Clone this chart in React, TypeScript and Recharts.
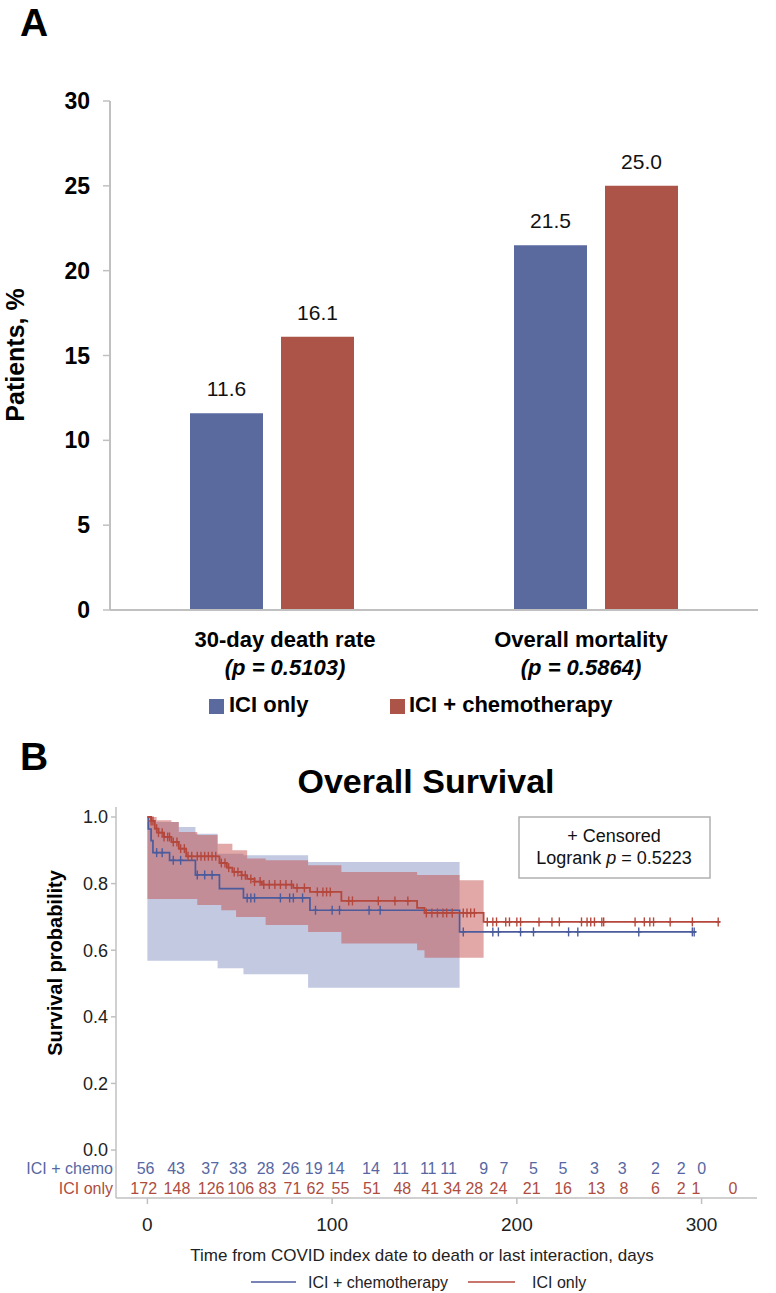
import React from 'react';
import { BarChart, Bar, XAxis, YAxis, LabelList, ComposedChart, Line, Area, Scatter } from 'recharts';

const FONT = '"Liberation Sans", Arial, Helvetica, sans-serif';

// ---------- Panel A data ----------
const barCategories = ['30-day death rate', 'Overall mortality'];
const barPValues = ['(p = 0.5103)', '(p = 0.5864)'];
const iciOnlyRates = [11.6, 21.5];
const iciChemoRates = [16.1, 25.0];
const barYTicks = [0, 5, 10, 15, 20, 25, 30];

// ---------- Panel B data ----------
// Kaplan-Meier step curves
const chemoKmTimes = [0, 0.5, 2, 3, 12, 26, 39, 52, 88, 169, 297];
const chemoKmSurv = [1.0, 0.964, 0.929, 0.893, 0.87, 0.826, 0.785, 0.757, 0.72, 0.655, 0.655];
const iciKmTimes = [0, 2, 4, 6, 9, 13, 17, 21, 39, 43, 46, 51, 54, 58, 62, 79, 88, 105, 146, 150, 182, 310];
const iciKmSurv = [1.0, 0.988, 0.965, 0.953, 0.94, 0.925, 0.905, 0.882, 0.862, 0.848, 0.835, 0.825, 0.814, 0.806, 0.797, 0.787, 0.775, 0.748, 0.727, 0.712, 0.685, 0.685];

// confidence bands
const chemoBandTimes = [0, 17, 26, 38, 52, 87, 169];
const chemoBandLow = [0.568, 0.568, 0.568, 0.546, 0.528, 0.487, 0.487];
const chemoBandHigh = [0.985, 0.97, 0.95, 0.89, 0.885, 0.865, 0.865];
const iciBandTimes = [0, 5, 13, 17, 27, 38, 40, 46, 48, 54, 64, 87, 105, 146, 150, 169, 182];
const iciBandHigh = [1.0, 0.99, 0.985, 0.955, 0.946, 0.92, 0.92, 0.9, 0.9, 0.875, 0.87, 0.855, 0.835, 0.826, 0.826, 0.81, 0.81];
const iciBandLow = [0.754, 0.754, 0.754, 0.754, 0.736, 0.736, 0.72, 0.72, 0.7, 0.7, 0.676, 0.655, 0.62, 0.6, 0.577, 0.577, 0.577];

// censored observations (days)
const chemoCensorTimes = [5, 8, 14, 18, 27, 31, 35, 54, 56, 58, 72, 77, 79, 84, 91, 100, 104, 120, 126, 171, 187, 190, 202, 209, 228, 233, 266, 295, 296];
const iciCensorTimes = [2, 3, 5, 6, 8, 9, 11, 12, 14, 16, 18, 20, 22, 24, 27, 29, 31, 33, 35, 37, 40, 42, 44, 47, 49, 51, 53, 56, 58, 61, 63, 66, 69, 72, 75, 78, 81, 85, 92, 95, 97, 99, 109, 111, 125, 134, 141, 151, 154, 157, 160, 162, 165, 171, 173, 175, 177, 184, 187, 189, 194, 196, 200, 202, 212, 219, 223, 235, 238, 240, 242, 246, 247, 264, 269, 272, 274, 283, 295, 309];

// number at risk
const riskTimesChemo = [-1, 15.5, 34, 49, 64, 77.5, 90, 102, 121, 137, 152, 163, 182, 193, 209, 225, 242, 257, 275, 289, 300];
const riskChemo = [56, 43, 37, 33, 28, 26, 19, 14, 14, 11, 11, 11, 9, 7, 5, 5, 3, 3, 2, 2, 0];
const riskTimesIci = [-2, 16, 34.5, 50.5, 65, 78.5, 91, 104.5, 121.5, 138, 153, 165, 177, 190, 208, 225, 243, 258, 275, 289, 297, 317];
const riskIci = [172, 148, 126, 106, 83, 71, 62, 55, 51, 48, 41, 34, 28, 24, 21, 16, 13, 8, 6, 2, 1, 0];

const kmXTicks = [0, 100, 200, 300];
const kmYTicks = [0, 0.2, 0.4, 0.6, 0.8, 1.0];

// ---------- styling ----------
const BAR_BLUE = '#5a6a9f';
const BAR_RED = '#ad5449';
const KM_BLUE = '#4b5b9c';
const KM_RED = '#b5473c';
const RISK_BLUE = '#5667a3';
const RISK_RED = '#ad4d3f';
const AXIS_GREY = '#c0c0c0';
const ROW_Y_CHEMO = -0.055;
const ROW_Y_ICI = -0.115;
const catLabelShift = [13, -15];

// ---------- derived tables ----------
const barData = barCategories.map((c, i) => ({
  category: c,
  pLabel: barPValues[i],
  iciOnly: iciOnlyRates[i],
  iciChemo: iciChemoRates[i],
}));

const stepAt = (times: number[], vals: number[], t: number) => {
  let v = vals[0];
  for (let i = 0; i < times.length; i++) if (times[i] <= t) v = vals[i];
  return v;
};

const chemoLine = chemoKmTimes.map((t, i) => ({ t, s: chemoKmSurv[i] }));
const iciLine = iciKmTimes.map((t, i) => ({ t, s: iciKmSurv[i] }));
const chemoBand = chemoBandTimes.map((t, i) => ({ t, range: [chemoBandLow[i], chemoBandHigh[i]] }));
const iciBand = iciBandTimes.map((t, i) => ({ t, range: [iciBandLow[i], iciBandHigh[i]] }));
const chemoCensor = chemoCensorTimes.map((t) => ({ t, s: stepAt(chemoKmTimes, chemoKmSurv, t) }));
const iciCensor = iciCensorTimes.map((t) => ({ t, s: stepAt(iciKmTimes, iciKmSurv, t) }));
const chemoRisk = riskTimesChemo.map((t, i) => ({ t, s: ROW_Y_CHEMO, n: riskChemo[i] }));
const iciRisk = riskTimesIci.map((t, i) => ({ t, s: ROW_Y_ICI, n: riskIci[i] }));

const CategoryTick = (props: any) => {
  const { x, y, payload, index } = props;
  const dx = catLabelShift[index] || 0;
  const p = barData[index] ? barData[index].pLabel : '';
  return (
    <g transform={`translate(${x + dx},${y})`}>
      <text x={0} y={29} textAnchor="middle" fontSize={22} fontWeight="bold" fill="#000" fontFamily={FONT}>
        {payload.value}
      </text>
      <text x={0} y={57} textAnchor="middle" fontSize={22} fontWeight="bold" fontStyle="italic" fill="#000" fontFamily={FONT}>
        {p}
      </text>
    </g>
  );
};

const censorShape = (color: string) => (props: any) => {
  const { cx, cy } = props;
  if (cx == null || cy == null) return <g />;
  return (
    <g stroke={color} strokeWidth={1.4}>
      <line x1={cx} x2={cx} y1={cy - 4.5} y2={cy + 4.5} />
      <line x1={cx - 2.5} x2={cx + 2.5} y1={cy} y2={cy} />
    </g>
  );
};

const riskShape = (color: string) => (props: any) => {
  const { cx, cy, payload } = props;
  if (cx == null || cy == null) return <g />;
  return (
    <text x={cx} y={cy} textAnchor="middle" dominantBaseline="central" fontSize={16} fill={color} fontFamily={FONT}>
      {payload.n}
    </text>
  );
};

export default function App() {
  return (
    <div style={{ position: 'absolute', left: 0, top: 0, width: 776, height: 1293, background: '#fff', fontFamily: FONT }}>
      {/* Panel A */}
      <div style={{ position: 'absolute', left: 0, top: 0 }}>
        <BarChart
          width={776}
          height={720}
          data={barData}
          margin={{ top: 101, right: 18, left: 50, bottom: 50 }}
          barGap={18}
          barSize={73}
        >
          <XAxis
            dataKey="category"
            height={60}
            interval={0}
            tick={<CategoryTick />}
            tickLine={false}
            axisLine={{ stroke: AXIS_GREY, strokeWidth: 2 }}
          />
          <YAxis
            type="number"
            domain={[0, 30]}
            ticks={barYTicks}
            width={60}
            tickSize={7}
            tickMargin={13}
            axisLine={{ stroke: AXIS_GREY, strokeWidth: 2 }}
            tickLine={{ stroke: AXIS_GREY, strokeWidth: 1.5 }}
            tick={{ fontSize: 23, fontWeight: 'bold', fill: '#000', fontFamily: FONT }}
          />
          <Bar dataKey="iciOnly" fill={BAR_BLUE} isAnimationActive={false}>
            <LabelList
              dataKey="iciOnly"
              position="top"
              offset={17}
              formatter={(v: any) => Number(v).toFixed(1)}
              style={{ fontSize: 21, fill: '#111', fontFamily: FONT }}
            />
          </Bar>
          <Bar dataKey="iciChemo" fill={BAR_RED} isAnimationActive={false}>
            <LabelList
              dataKey="iciChemo"
              position="top"
              offset={17}
              formatter={(v: any) => Number(v).toFixed(1)}
              style={{ fontSize: 21, fill: '#111', fontFamily: FONT }}
            />
          </Bar>
        </BarChart>
      </div>

      {/* Panel B */}
      <div style={{ position: 'absolute', left: 0, top: 790 }}>
        <ComposedChart width={776} height={503} margin={{ top: 17, right: 19, bottom: 55, left: 56 }}>
          <XAxis
            dataKey="t"
            type="number"
            domain={[-17, 330]}
            ticks={kmXTicks}
            allowDataOverflow
            height={40}
            tickSize={6}
            tickMargin={14}
            axisLine={{ stroke: AXIS_GREY, strokeWidth: 1.5 }}
            tickLine={{ stroke: AXIS_GREY, strokeWidth: 1.5 }}
            tick={{ fontSize: 19, fill: '#222', fontFamily: FONT }}
          />
          <YAxis
            dataKey="s"
            type="number"
            domain={[-0.144, 1.03]}
            ticks={kmYTicks}
            allowDataOverflow
            width={60}
            tickSize={5}
            tickMargin={3}
            tickFormatter={(v: number) => v.toFixed(1)}
            axisLine={{ stroke: AXIS_GREY, strokeWidth: 1.5 }}
            tickLine={{ stroke: AXIS_GREY, strokeWidth: 1.5 }}
            tick={{ fontSize: 18, fill: '#222', fontFamily: FONT }}
          />
          <Area data={chemoBand} dataKey="range" type="stepAfter" stroke="none" fill="#8593c4" fillOpacity={0.5} isAnimationActive={false} />
          <Area data={iciBand} dataKey="range" type="stepAfter" stroke="none" fill="#c4524f" fillOpacity={0.5} isAnimationActive={false} />
          <Line data={chemoLine} dataKey="s" type="stepAfter" stroke={KM_BLUE} strokeWidth={1.7} dot={false} isAnimationActive={false} />
          <Line data={iciLine} dataKey="s" type="stepAfter" stroke={KM_RED} strokeWidth={1.8} dot={false} isAnimationActive={false} />
          <Scatter data={chemoCensor} dataKey="s" shape={censorShape(KM_BLUE)} isAnimationActive={false} />
          <Scatter data={iciCensor} dataKey="s" shape={censorShape(KM_RED)} isAnimationActive={false} />
          <Scatter data={chemoRisk} dataKey="s" shape={riskShape(RISK_BLUE)} isAnimationActive={false} />
          <Scatter data={iciRisk} dataKey="s" shape={riskShape(RISK_RED)} isAnimationActive={false} />
        </ComposedChart>
      </div>

      {/* Annotations */}
      <svg width={776} height={1293} style={{ position: 'absolute', left: 0, top: 0, pointerEvents: 'none' }} fontFamily={FONT}>
        <text x={20} y={36} fontSize={39} fontWeight="bold" fill="#000">A</text>
        <text x={15} y={355} fontSize={25} fontWeight="bold" fill="#000" textAnchor="middle" dominantBaseline="central" transform="rotate(-90 15 355)">Patients, %</text>

        <rect x={209} y={699} width={15} height={15} fill={BAR_BLUE} />
        <text x={229} y={704} fontSize={22} fontWeight="bold" fill="#000" dominantBaseline="central">ICI only</text>
        <rect x={390} y={699} width={15} height={15} fill={BAR_RED} />
        <text x={409} y={704} fontSize={22} fontWeight="bold" fill="#000" dominantBaseline="central">ICI + chemotherapy</text>

        <text x={20} y={770} fontSize={39} fontWeight="bold" fill="#000">B</text>
        <text x={426} y={781} fontSize={34} fontWeight="bold" fill="#000" textAnchor="middle" dominantBaseline="central">Overall Survival</text>
        <text x={55} y={963} fontSize={20} fontWeight="bold" fill="#000" textAnchor="middle" dominantBaseline="central" transform="rotate(-90 55 963)">Survival probability</text>

        <rect x={519} y={817} width={191} height={61} fill="none" stroke="#b0b0b0" strokeWidth={1.5} />
        <text x={614} y={836} fontSize={18} fill="#111" textAnchor="middle" dominantBaseline="central">+ Censored</text>
        <text x={614} y={858} fontSize={18} fill="#111" textAnchor="middle" dominantBaseline="central">
          Logrank <tspan fontStyle="italic">p</tspan> = 0.5223
        </text>

        <text x={113} y={1168} fontSize={16} fill={RISK_BLUE} textAnchor="end" dominantBaseline="central">ICI + chemo</text>
        <text x={113} y={1188} fontSize={16} fill={RISK_RED} textAnchor="end" dominantBaseline="central">ICI only</text>

        <text x={422} y={1255} fontSize={17} fill="#222" textAnchor="middle" dominantBaseline="central">
          Time from COVID index date to death or last interaction, days
        </text>

        <line x1={251} x2={296} y1={1282} y2={1282} stroke={KM_BLUE} strokeWidth={1.5} />
        <text x={308} y={1282} fontSize={16} fill="#222" dominantBaseline="central">ICI + chemotherapy</text>
        <line x1={468} x2={515} y1={1282} y2={1282} stroke={KM_RED} strokeWidth={1.5} />
        <text x={532} y={1282} fontSize={16} fill="#222" dominantBaseline="central">ICI only</text>
      </svg>
    </div>
  );
}
